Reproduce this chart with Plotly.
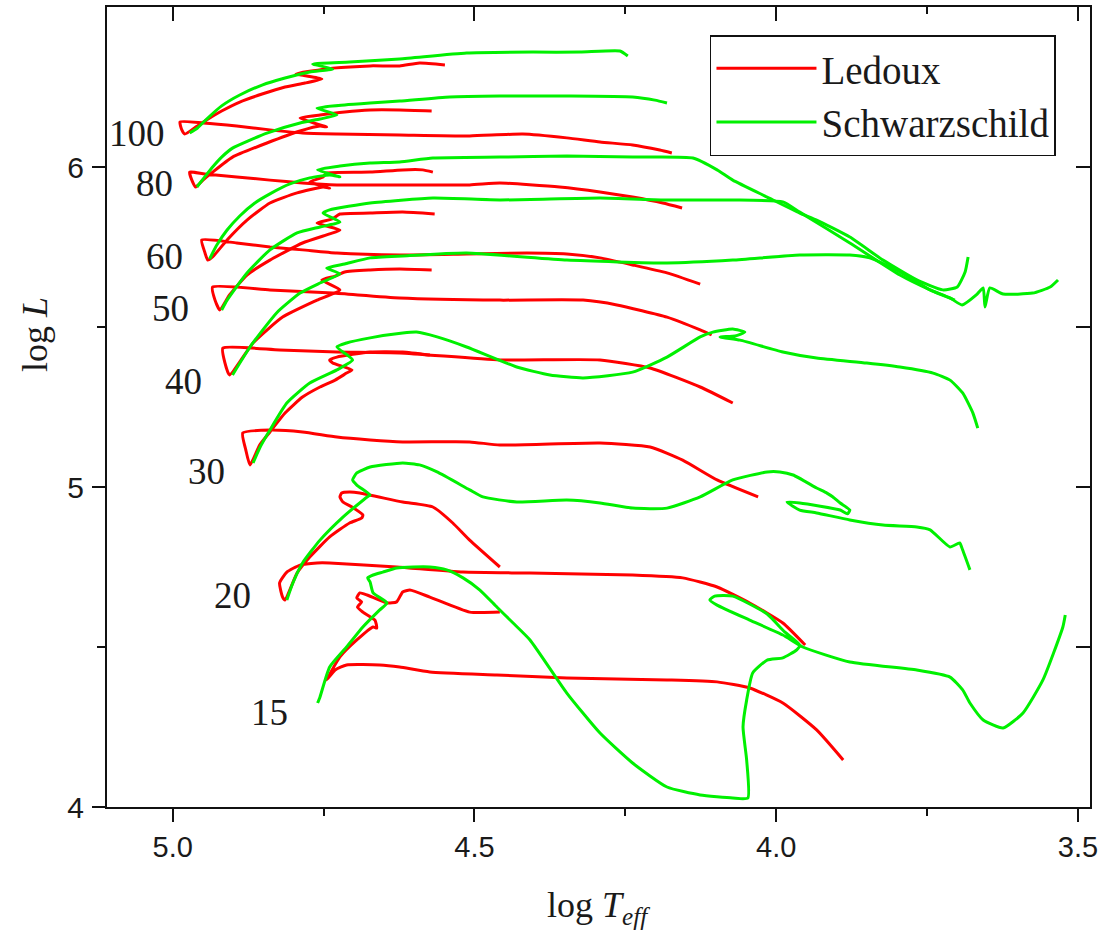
import plotly.graph_objects as go

# ---------------- data (log Teff, log L) ----------------
LED_100 = [(4.173,6.044),(4.193,6.053),(4.238,6.069),(4.292,6.078),(4.347,6.091),(4.420,6.103),(4.508,6.097),(4.624,6.100),(4.728,6.103),(4.785,6.106),(4.839,6.116),(4.894,6.128),(4.950,6.1375),(4.988,6.141),(4.985,6.116),(4.980,6.103),(4.964,6.122),(4.944,6.147),(4.919,6.175),(4.889,6.203),(4.852,6.228),(4.814,6.250),(4.781,6.2625),(4.753,6.275),(4.796,6.291),(4.770,6.300),(4.735,6.309),(4.673,6.316),(4.624,6.316),(4.591,6.325),(4.549,6.319)]
SCH_100 = [(4.972,6.106),(4.959,6.122),(4.942,6.153),(4.919,6.191),(4.889,6.225),(4.852,6.256),(4.814,6.278),(4.773,6.297),(4.735,6.306),(4.768,6.322),(4.707,6.328),(4.624,6.3375),(4.513,6.356),(4.403,6.359),(4.325,6.359),(4.259,6.3625),(4.246,6.347)]

LED_80 = [(4.156,5.872),(4.188,5.8875),(4.238,5.906),(4.292,5.922),(4.359,5.9375),(4.458,5.950),(4.508,5.944),(4.624,5.944),(4.728,5.944),(4.785,5.950),(4.839,5.959),(4.894,5.969),(4.947,5.978),(4.972,5.984),(4.967,5.953),(4.962,5.9375),(4.950,5.959),(4.934,5.984),(4.901,6.031),(4.844,6.075),(4.789,6.1125),(4.756,6.128),(4.745,6.125),(4.789,6.153),(4.756,6.1625),(4.715,6.172),(4.673,6.178),(4.624,6.178),(4.571,6.175)]
SCH_80 = [(4.960,5.9375),(4.947,5.969),(4.934,6.000),(4.919,6.031),(4.901,6.059),(4.872,6.084),(4.844,6.106),(4.789,6.1375),(4.756,6.150),(4.728,6.1625),(4.761,6.184),(4.715,6.194),(4.673,6.200),(4.624,6.206),(4.541,6.219),(4.458,6.222),(4.347,6.222),(4.238,6.219),(4.201,6.209),(4.181,6.200)]

LED_60 = [(4.126,5.634),(4.181,5.669),(4.238,5.694),(4.292,5.716),(4.347,5.728),(4.413,5.731),(4.513,5.728),(4.624,5.725),(4.728,5.731),(4.785,5.741),(4.839,5.750),(4.894,5.7625),(4.952,5.772),(4.947,5.734),(4.942,5.709),(4.934,5.719),(4.910,5.772),(4.877,5.834),(4.839,5.8875),(4.794,5.919),(4.751,5.9375),(4.740,5.934),(4.773,5.953),(4.751,5.969),(4.745,5.981),(4.673,5.984),(4.619,5.991),(4.586,5.991),(4.569,5.984)]
SCH_60 = [(4.939,5.7125),(4.927,5.756),(4.910,5.803),(4.889,5.847),(4.864,5.8875),(4.839,5.916),(4.806,5.947),(4.773,5.966),(4.740,5.975),(4.723,5.969),(4.760,5.991),(4.723,6.003),(4.673,6.0125),(4.624,6.016),(4.569,6.028),(4.458,6.031),(4.347,6.034),(4.238,6.031),(4.138,6.028),(4.098,5.991),(4.072,5.959),(4.015,5.906),(3.961,5.856),(3.933,5.834),(3.878,5.781),(3.823,5.709),(3.767,5.647),(3.724,5.616),(3.700,5.625),(3.687,5.672),(3.682,5.719)]

LED_50 = [(4.107,5.475),(4.126,5.491),(4.181,5.531),(4.264,5.569),(4.320,5.584),(4.458,5.584),(4.624,5.591),(4.735,5.606),(4.839,5.616),(4.934,5.625),(4.930,5.584),(4.922,5.553),(4.906,5.600),(4.877,5.6625),(4.839,5.709),(4.785,5.7625),(4.740,5.791),(4.723,5.803),(4.761,5.825),(4.736,5.8375),(4.723,5.853),(4.673,5.856),(4.619,5.859),(4.566,5.853)]
SCH_50 = [(4.919,5.553),(4.910,5.584),(4.877,5.669),(4.839,5.741),(4.794,5.794),(4.756,5.8125),(4.723,5.828),(4.751,5.856),(4.740,5.866),(4.673,5.8875),(4.569,5.903),(4.458,5.897),(4.292,5.903),(4.181,5.897),(4.072,5.897),(3.989,5.891),(3.961,5.859),(3.878,5.7625),(3.795,5.6625),(3.745,5.616),(3.712,5.591),(3.692,5.569),(3.667,5.603),(3.657,5.622),(3.654,5.5625),(3.646,5.622),(3.624,5.603),(3.575,5.606),(3.546,5.625),(3.533,5.647)]

LED_40 = [(4.072,5.2625),(4.126,5.3125),(4.209,5.372),(4.292,5.397),(4.458,5.397),(4.624,5.419),(4.728,5.422),(4.823,5.428),(4.917,5.434),(4.914,5.391),(4.906,5.350),(4.867,5.450),(4.818,5.531),(4.761,5.584),(4.723,5.616),(4.753,5.647),(4.731,5.659),(4.715,5.672),(4.673,5.678),(4.624,5.681),(4.571,5.678)]
SCH_40 = [(4.901,5.350),(4.872,5.4375),(4.828,5.544),(4.789,5.606),(4.756,5.6375),(4.723,5.666),(4.745,5.684),(4.715,5.697),(4.673,5.716),(4.619,5.722),(4.513,5.731),(4.347,5.709),(4.181,5.700),(4.072,5.709),(3.961,5.725),(3.878,5.725),(3.845,5.716),(3.795,5.672),(3.745,5.616),(3.704,5.584)]

LED_30 = [(4.030,4.969),(4.098,5.022),(4.155,5.084),(4.209,5.125),(4.292,5.1375),(4.458,5.131),(4.508,5.141),(4.619,5.141),(4.673,5.147),(4.728,5.156),(4.785,5.172),(4.839,5.178),(4.884,5.169),(4.879,5.116),(4.872,5.069),(4.856,5.131),(4.839,5.172),(4.814,5.231),(4.785,5.281),(4.756,5.3125),(4.731,5.334),(4.712,5.356),(4.703,5.366),(4.735,5.3875),(4.740,5.397),(4.728,5.406),(4.673,5.422),(4.619,5.422),(4.574,5.4125)]
SCH_30 = [(4.867,5.075),(4.856,5.122),(4.839,5.178),(4.811,5.2625),(4.773,5.325),(4.728,5.366),(4.702,5.397),(4.728,5.4375),(4.712,5.450),(4.673,5.466),(4.619,5.481),(4.596,5.484),(4.562,5.469),(4.513,5.4375),(4.430,5.375),(4.375,5.350),(4.320,5.341),(4.238,5.359),(4.181,5.406),(4.126,5.469),(4.105,5.484),(4.072,5.494),(4.052,5.484),(4.068,5.472),(4.093,5.469),(4.060,5.459),(3.989,5.422),(3.933,5.403),(3.850,5.3875),(3.795,5.375),(3.740,5.356),(3.712,5.334),(3.691,5.294),(3.674,5.231),(3.666,5.184)]

LED_20 = [(3.952,4.506),(3.989,4.575),(4.044,4.6375),(4.098,4.6875),(4.155,4.716),(4.238,4.725),(4.408,4.731),(4.519,4.734),(4.629,4.750),(4.740,4.7625),(4.761,4.7625),(4.789,4.756),(4.811,4.734),(4.823,4.700),(4.818,4.656),(4.814,4.647),(4.794,4.731),(4.773,4.781),(4.740,4.844),(4.707,4.8875),(4.687,4.903),(4.685,4.9125),(4.703,4.9375),(4.718,4.953),(4.723,4.969),(4.720,4.981),(4.707,4.984),(4.690,4.981),(4.619,4.953),(4.569,4.9375),(4.536,4.8875),(4.508,4.834),(4.458,4.750)]
SCH_20 = [(4.811,4.647),(4.801,4.700),(4.785,4.7625),(4.756,4.834),(4.718,4.906),(4.678,4.969),(4.673,4.975),(4.695,5.006),(4.702,5.022),(4.695,5.044),(4.673,5.0625),(4.619,5.075),(4.591,5.069),(4.562,5.047),(4.508,4.991),(4.486,4.969),(4.430,4.953),(4.347,4.959),(4.292,4.950),(4.238,4.934),(4.181,4.934),(4.126,4.969),(4.072,5.022),(4.015,5.047),(3.994,5.047),(3.972,5.0375),(3.933,4.997),(3.916,4.981),(3.906,4.969),(3.894,4.950),(3.878,4.928),(3.882,4.916),(3.894,4.928),(3.961,4.950),(3.982,4.953),(3.961,4.928),(3.933,4.919),(3.878,4.897),(3.823,4.881),(3.767,4.875),(3.745,4.866),(3.712,4.8125),(3.696,4.825),(3.691,4.803),(3.679,4.741)]

LED_15 = [(3.889,4.147),(3.933,4.241),(3.989,4.325),(4.044,4.372),(4.098,4.391),(4.181,4.397),(4.347,4.403),(4.463,4.4125),(4.574,4.422),(4.624,4.4375),(4.657,4.444),(4.712,4.444),(4.731,4.428),(4.745,4.397),(4.723,4.469),(4.695,4.522),(4.668,4.5625),(4.662,4.559),(4.665,4.584),(4.685,4.609),(4.694,4.625),(4.687,4.641),(4.695,4.653),(4.690,4.669),(4.678,4.6625),(4.645,4.6375),(4.629,4.641),(4.619,4.672),(4.607,4.678),(4.574,4.656),(4.508,4.609),(4.458,4.609)]
SCH_15 = [(4.760,4.325),(4.756,4.344),(4.740,4.4375),(4.712,4.500),(4.685,4.5625),(4.657,4.616),(4.645,4.6375),(4.668,4.669),(4.673,4.703),(4.677,4.716),(4.668,4.725),(4.652,4.734),(4.629,4.747),(4.602,4.750),(4.574,4.750),(4.546,4.741),(4.519,4.716),(4.491,4.678),(4.463,4.625),(4.436,4.575),(4.408,4.522),(4.347,4.356),(4.292,4.231),(4.238,4.1375),(4.181,4.0625),(4.126,4.0375),(4.072,4.028),(4.047,4.028),(4.049,4.147),(4.055,4.250),(4.049,4.334),(4.039,4.419),(4.015,4.459),(3.989,4.466),(3.966,4.491),(3.961,4.506),(3.986,4.547),(4.015,4.603),(4.072,4.659),(4.102,4.659),(4.110,4.647),(4.098,4.631),(4.044,4.584),(3.989,4.5375),(3.956,4.500),(3.878,4.453),(3.767,4.428),(3.712,4.406),(3.691,4.366),(3.679,4.325),(3.657,4.272),(3.624,4.247),(3.591,4.294),(3.558,4.397),(3.525,4.5625),(3.521,4.600)]

MASSES = ["100", "80", "60", "50", "40", "30", "20", "15"]
LABEL_T = [5.060, 5.030, 5.013, 5.003, 4.982, 4.944, 4.901, 4.839]
LABEL_L = [6.106, 5.950, 5.719, 5.559, 5.331, 5.050, 4.6625, 4.294]

X_TICKS = [5.0, 4.5, 4.0, 3.5]
X_TICK_TEXT = ["5.0", "4.5", "4.0", "3.5"]
X_MINOR = [4.75, 4.25, 3.75]
Y_TICKS = [4, 5, 6]
Y_TICK_TEXT = ["4", "5", "6"]
Y_MINOR = [4.5, 5.5]
X_RANGE = [5.109, 3.480]
Y_RANGE = [4.0, 6.5]

RED = "#ff0000"
GREEN = "#00f000"
SERIF = "Liberation Serif, Times New Roman, serif"
SANS = "Liberation Sans, Arial, sans-serif"

ledoux = [LED_100, LED_80, LED_60, LED_50, LED_40, LED_30, LED_20, LED_15]
schwarz = [SCH_100, SCH_80, SCH_60, SCH_50, SCH_40, SCH_30, SCH_20, SCH_15]

fig = go.Figure()
for i, trk in enumerate(ledoux):
    fig.add_trace(go.Scatter(x=[p[0] for p in trk], y=[p[1] for p in trk], mode="lines",
                             line=dict(color=RED, width=3, shape="spline", smoothing=0.5),
                             name="Ledoux", legendgroup="led",
                             showlegend=(i == 0), hoverinfo="skip"))
for i, trk in enumerate(schwarz):
    fig.add_trace(go.Scatter(x=[p[0] for p in trk], y=[p[1] for p in trk], mode="lines",
                             line=dict(color=GREEN, width=3, shape="spline", smoothing=0.5),
                             name="Schwarzschild", legendgroup="sch",
                             showlegend=(i == 0), hoverinfo="skip"))
# empty trace that carries the mirrored (top/right) axes
fig.add_trace(go.Scatter(x=[], y=[], xaxis="x2", yaxis="y2", showlegend=False, hoverinfo="skip"))

for m, t, l in zip(MASSES, LABEL_T, LABEL_L):
    fig.add_annotation(x=t, y=l, xref="x", yref="y", text=m, showarrow=False,
                       font=dict(family=SERIF, size=37, color="#1a1a1a"))

fig.add_annotation(x=0.5, y=-0.125, xref="paper", yref="paper", showarrow=False,
                   xanchor="center", yanchor="middle",
                   text="log <i>T</i><sub><i>eff</i></sub>",
                   font=dict(family=SERIF, size=36, color="#1a1a1a"))
fig.add_annotation(x=-0.0732, y=0.59, xref="paper", yref="paper", showarrow=False, textangle=-90,
                   xanchor="center", yanchor="middle",
                   text="log <i>L</i>", font=dict(family=SERIF, size=36, color="#1a1a1a"))

common = dict(showgrid=False, zeroline=False, showline=True, linecolor="#111", linewidth=2,
              tickcolor="#111", tickwidth=2)
fig.update_layout(
    width=1108, height=943,
    margin=dict(l=107, r=18, t=7, b=136),
    paper_bgcolor="white", plot_bgcolor="white",
    xaxis=dict(range=X_RANGE, tickvals=X_TICKS, ticktext=X_TICK_TEXT, ticks="outside", ticklen=13,
               minor=dict(tickvals=X_MINOR, ticks="outside", ticklen=7, tickwidth=2, tickcolor="#111"),
               tickfont=dict(family=SANS, size=29, color="#1a1a1a"), ticklabelstandoff=0, **common),
    yaxis=dict(range=Y_RANGE, tickvals=Y_TICKS, ticktext=Y_TICK_TEXT, ticks="outside", ticklen=13,
               minor=dict(tickvals=Y_MINOR, ticks="outside", ticklen=8, tickwidth=2, tickcolor="#111"),
               tickfont=dict(family=SANS, size=30, color="#1a1a1a"), ticklabelstandoff=2, **common),
    xaxis2=dict(range=X_RANGE, overlaying="x", side="top", anchor="y2", tickvals=X_TICKS, ticks="inside",
                ticklen=14, showticklabels=False,
                minor=dict(tickvals=X_MINOR, ticks="inside", ticklen=7, tickwidth=2, tickcolor="#111"), **common),
    yaxis2=dict(range=Y_RANGE, overlaying="y", side="right", anchor="x2", tickvals=Y_TICKS, ticks="inside",
                ticklen=14, showticklabels=False,
                minor=dict(tickvals=Y_MINOR, ticks="inside", ticklen=14, tickwidth=2, tickcolor="#111"), **common),
    legend=dict(x=0.6134, y=0.965, xanchor="left", yanchor="top", bordercolor="#111", borderwidth=1.5,
                bgcolor="white", font=dict(family=SERIF, size=39, color="#1a1a1a"), itemwidth=100,
                tracegroupgap=0),
    showlegend=True,
)

fig.write_html("out.html")
